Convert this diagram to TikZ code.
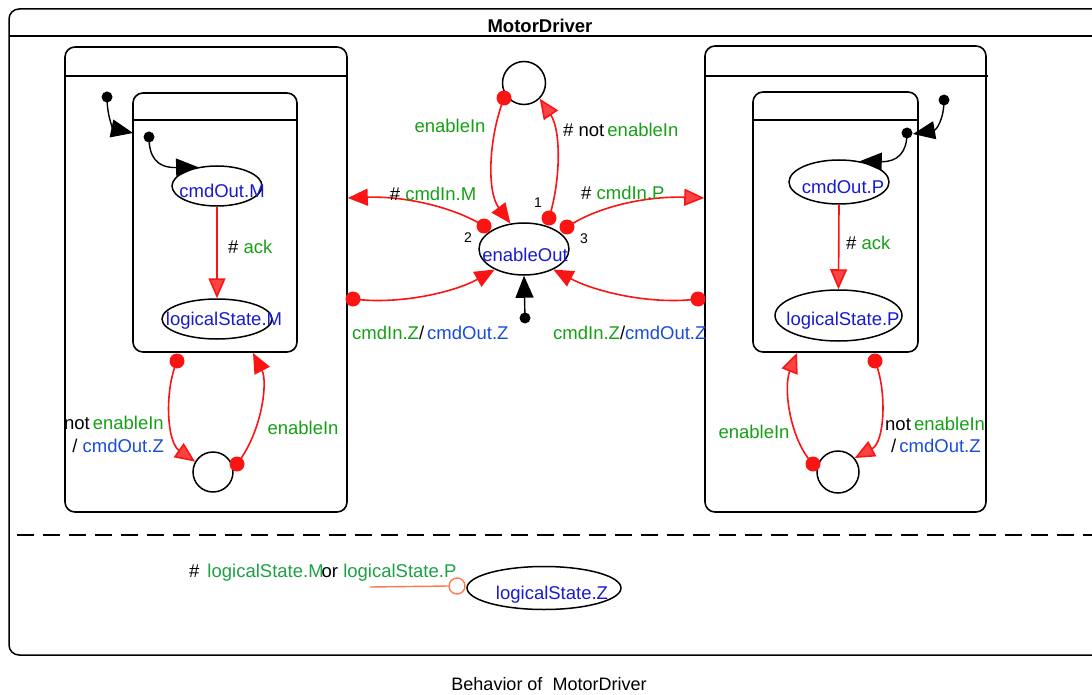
\documentclass[tikz,border=0pt]{standalone}
\usepackage{fontspec}
\setmainfont{Liberation Sans}
\usetikzlibrary{arrows.meta,shapes.geometric}
\definecolor{tgreen}{RGB}{22,160,22}
\definecolor{lblue}{RGB}{25,75,220}
\definecolor{sblue}{RGB}{25,25,210}
\definecolor{bgreen}{RGB}{30,160,70}
\definecolor{tred}{RGB}{250,20,20}
\definecolor{torange}{RGB}{255,120,80}
\tikzset{
  every node/.style={font=\fontsize{18.5}{20}\selectfont, inner sep=0pt},
  frame/.style={draw, line width=1.5pt, rounded corners=10pt},
  region/.style={draw, line width=1.6pt, rounded corners=10pt, rectangle},
  st/.style={draw, ellipse, line width=1.5pt},
  pst/.style={draw, circle, line width=1.5pt},
  stt/.style={text=sblue},
  tr/.style={draw=tred, line width=1.6pt, -{Triangle[length=20pt,width=17pt]}},
  tro/.style={draw=tred, line width=1.6pt, -{Triangle[length=20pt,width=17pt,fill=tred!80]}},
  tdot/.style={circle, fill=tred, minimum size=15pt},
  idot/.style={circle, fill=black, minimum size=11pt},
  itr/.style={draw, line width=1.4pt, -{Triangle[length=22pt,width=18pt]}},
  gl/.style={text=tgreen},
  bl/.style={text=lblue},
  num/.style={font=\fontsize{14}{16}\selectfont},
}
\begin{document}
\begin{tikzpicture}[x=1pt,y=-1pt]
\useasboundingbox (0,0) rectangle (1092,695);
\begin{scope}
\clip (0,0) rectangle (1092,695);
% outer frame
\draw[frame] (9,9) rectangle (1120,655);
\draw[line width=1.5pt] (9,36) -- (1092,36);
\draw[line width=1.5pt, dash pattern=on 17pt off 9pt] (17,535) -- (1092,535);
\end{scope}
\node[font=\bfseries\fontsize{18.5}{20}\selectfont, anchor=base] (title) at (540,33) {MotorDriver};

% regions
\node[region, minimum width=282pt, minimum height=465pt] (L) at (206,279.5) {};
\draw[line width=1.6pt] (65,76) -- (347,76);
\node[region, minimum width=164pt, minimum height=259pt] (LI) at (215,222.5) {};
\draw[line width=1.6pt] (133,120) -- (297,120);
\node[region, minimum width=281pt, minimum height=466pt] (R) at (845.5,279) {};
\draw[line width=1.6pt] (705,76) -- (988,76);
\node[region, minimum width=165pt, minimum height=260pt] (RI) at (835.5,222) {};
\draw[line width=1.6pt] (753,120) -- (918,120);

% states
\node[st, minimum width=90pt, minimum height=40pt] (cmdM) at (217,186) {};
\node[stt] at (222,191) {cmdOut.M};
\node[st, minimum width=110pt, minimum height=40pt] (lsM) at (217,319) {};
\node[stt] at (224,321) {logicalState.M};
\node[pst, minimum size=40pt] (lcM) at (213,472) {};

\node[st, minimum width=100pt, minimum height=44pt] (cmdP) at (839,182) {};
\node[stt] at (843,187) {cmdOut.P};
\node[st, minimum width=127pt, minimum height=51pt] (lsP) at (838.5,315.5) {};
\node[stt] at (843,321) {logicalState.P};
\node[pst, minimum size=42pt] (lcP) at (838,472) {};

\node[pst, minimum size=43pt] (tc) at (524,83) {};
\node[st, minimum width=90pt, minimum height=52pt] (eo) at (524,249) {};
\node[stt] at (525,255) {enableOut};

\node[st, minimum width=154pt, minimum height=43pt] (lsZ) at (544,588) {};
\node[stt] at (552,595) {logicalState.Z};

% initial pseudostates
\node[idot] (i1) at (107,97) {};
\node[idot] (i2) at (149,137) {};
\node[idot] (i3) at (944,100) {};
\node[idot] (i4) at (907,133) {};
\node[idot] (i5) at (525,318) {};
\coordinate (i1t) at (133,133);
\coordinate (i3t) at (913,134);
\draw[itr] (i1.center) .. controls (107,118) and (114,129) .. (i1t);
\draw[itr] (i2.center) .. controls (149,156) and (156,168) .. (cmdM.135);
\draw[itr] (i3.center) .. controls (944,120) and (936,130) .. (i3t);
\draw[itr] (i4.center) .. controls (907,152) and (898,162) .. (cmdP.45);
\draw[itr] (i5.center) -- (eo.south);

% tail dots
\node[tdot] (d1) at (504,98) {};
\node[tdot] (d2) at (549,218) {};
\node[tdot] (d3) at (484,226) {};
\node[tdot] (d4) at (567,227) {};
\node[tdot] (d5) at (353,299) {};
\node[tdot] (d6) at (698,299) {};
\node[tdot] (d7) at (177,361) {};
\node[tdot] (d8) at (237,464) {};
\node[tdot] (d9) at (813,464) {};
\node[tdot] (d10) at (875,361) {};

% transitions
\draw[tr] (d1.center) .. controls (488,140) and (487,192) .. (eo.118);
\draw[tro] (d2.center) .. controls (561,180) and (561,130) .. (tc.-45);
\draw[tr] (d3.center) .. controls (450,205) and (400,196) .. (L.east |- 0,198);
\draw[tro] (d4.center) .. controls (600,205) and (650,196) .. (R.west |- 0,198);
\draw[tr] (d5.center) .. controls (400,305) and (455,292) .. (eo.-145);
\draw[tr] (d6.center) .. controls (651,305) and (596,292) .. (eo.-35);
\draw[tro] (d7.center) .. controls (164,392) and (167,442) .. (lcM.150);
\draw[tr] (d8.center) .. controls (262,432) and (268,382) .. (253,353);
\draw[tro] (d9.center) .. controls (790,440) and (783,388) .. (797,353);
\draw[tro] (d10.center) .. controls (887,390) and (885,442) .. (lcP.40);
\draw[tro] (cmdM.south) -- (lsM.north);
\draw[tro] (cmdP.south) -- (lsP.north);

% labels
\node[gl] at (450,126) {enableIn};
\node[anchor=west] at (563,130) {\# not\,\textcolor{tgreen}{enableIn}};
\node[num] at (538,203) {1};
\node[num] at (468,238) {2};
\node[num] at (584,239) {3};
\node at (433,194) {\# \textcolor{tgreen}{cmdIn.M}};
\node[anchor=west] at (581,193) {\# \textcolor{tgreen}{cmdIn.P}};
\node[anchor=west] at (352,333) {\textcolor{tgreen}{cmdIn.Z}/\,\textcolor{lblue}{cmdOut.Z}};
\node[anchor=west] at (553,333) {\textcolor{tgreen}{cmdIn.Z}/\textcolor{lblue}{cmdOut.Z}};
\node[anchor=west] at (228,247) {\# \textcolor{tgreen}{ack}};
\node[anchor=west] at (846,243) {\# \textcolor{tgreen}{ack}};
\node[anchor=east] at (164,423) {not\,\textcolor{tgreen}{enableIn}};
\node[anchor=east] at (164,446) {/ \textcolor{lblue}{cmdOut.Z}};
\node[gl] at (303,428) {enableIn};
\node[gl] at (754,432) {enableIn};
\node[anchor=west] at (885,424) {not\,\textcolor{tgreen}{enableIn}};
\node[anchor=west] at (891,446) {/\,\textcolor{lblue}{cmdOut.Z}};

% bottom reaction
\node[anchor=west] (rx) at (189,573) {\#\hspace{8pt}\textcolor{bgreen}{logicalState.M}\hspace{-2pt}or \textcolor{bgreen}{logicalState.P}};
\node[circle, draw=torange, line width=1.4pt, minimum size=16pt, fill=white] (oc) at (457,586) {};
\coordinate (ol) at (370,587);
\draw[torange, line width=1.4pt] (ol) -- (oc.west);

\node[font=\fontsize{18}{20}\selectfont] (cap) at (549,684) {Behavior of\ \ MotorDriver};
\end{tikzpicture}
\end{document}
